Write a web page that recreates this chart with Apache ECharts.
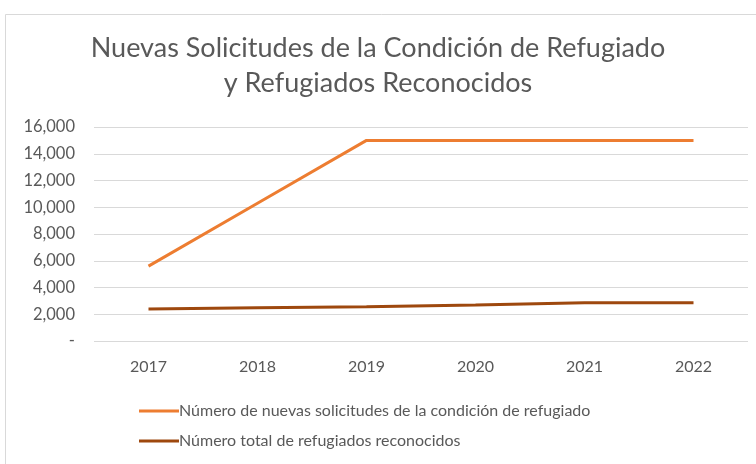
<!DOCTYPE html>
<html><head><meta charset="utf-8">
<script src="https://cdn.jsdelivr.net/npm/echarts@6/dist/echarts.min.js"></script>
<style>html,body{margin:0;padding:0;background:#fff}#c{width:756px;height:464px}</style>
</head><body><div id="c"></div>
<script>
const categories = ['2017','2018','2019','2020','2021','2022'];
const solicitudes = [5600, 10300, 15000, 15000, 15000, 15000];
const reconocidos = [2400, 2480, 2560, 2700, 2860, 2860];
const seriesNames = ['Número de nuevas solicitudes de la condición de refugiado','Número total de refugiados reconocidos'];
const titleText = 'Nuevas Solicitudes de la Condición de Refugiado\ny Refugiados Reconocidos';

const chart = echarts.init(document.getElementById('c'));
const font = 'Lato';
chart.setOption({
  animation: false,
  backgroundColor: '#fff',
  graphic: [{type:'rect', shape:{x:5.5,y:14.5,width:800,height:500}, style:{fill:'none', stroke:'#d9d9d9', lineWidth:1}}],
  title: {text: titleText, left: 'center', top: 26, textStyle:{fontFamily:font, fontSize:27, fontWeight:'normal', color:'#595959', lineHeight:35}},
  grid: {left: 94, right: 8, top: 127, bottom: 123},
  legend: {orient:'vertical', left: 134, top: 398, itemWidth: 40, itemHeight: 3, itemGap: 14, icon:'rect',
    textStyle:{fontFamily:font, fontSize:16, color:'#595959', padding:[0,0,0,-5]}, data: seriesNames},
  xAxis: {type:'category', data: categories, boundaryGap: true,
    axisLine:{show:false}, axisTick:{show:false},
    axisLabel:{fontFamily:font, fontSize:16, color:'#595959', margin: 18}},
  yAxis: {type:'value', min:0, max:16000, interval:2000,
    axisLine:{show:false}, axisTick:{show:false},
    splitLine:{lineStyle:{color:'#d9d9d9', width:1}},
    axisLabel:{fontFamily:font, fontSize:16.5, color:'#595959', margin: 19,
      formatter: v => v === 0 ? '-' : v.toLocaleString('en-US')}},
  series: [
    {name: seriesNames[0], type:'line', data: solicitudes, symbol:'none', lineStyle:{color:'#ED7D31', width:3}, itemStyle:{color:'#ED7D31'}},
    {name: seriesNames[1], type:'line', data: reconocidos, symbol:'none', lineStyle:{color:'#9E480E', width:3}, itemStyle:{color:'#9E480E'}}
  ]
});
</script></body></html>
